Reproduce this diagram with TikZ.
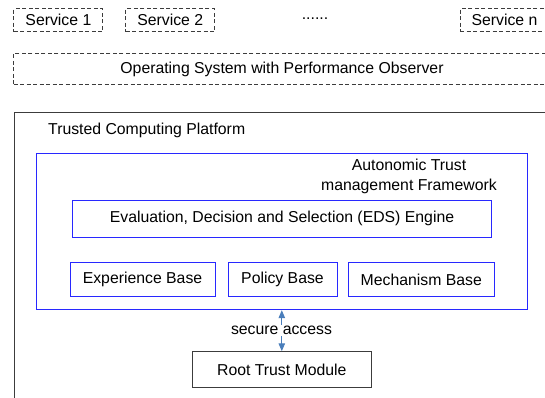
\documentclass[tikz,border=0pt]{standalone}
\usepackage{fontspec}
\setmainfont{Liberation Sans}
\usetikzlibrary{arrows.meta}
\definecolor{fwblue}{RGB}{40,40,255}
\definecolor{arrblue}{RGB}{74,126,187}
\definecolor{linegray}{RGB}{60,60,60}
\begin{document}
\begin{tikzpicture}[x=1pt,y=-1pt,
  every node/.style={font=\fontsize{15.8}{18.5}\selectfont, inner sep=0pt},
  dashbox/.style={draw=linegray, line width=0.9pt, dash pattern=on 4pt off 2.5pt},
  bluebox/.style={draw=fwblue, line width=0.9pt},
  blackbox/.style={draw=linegray, line width=0.9pt}]
\useasboundingbox (0,0) rectangle (545,398);
\clip (0,0) rectangle (545,398);
% services
\node[dashbox, minimum width=89pt, minimum height=22.7pt] (s1) at (58.4,20.3) {Service 1};
\node[dashbox, minimum width=89pt, minimum height=22.7pt] (s2) at (170.2,20.3) {Service 2};
\node (dots) at (315,19) {......};
\node[dashbox, minimum width=89pt, minimum height=22.7pt] (sn) at (504.5,20.3) {Service n};
% operating system
\node[dashbox, minimum width=536.6pt, minimum height=31pt] (os) at (282,69) {Operating System with Performance Observer};
% trusted computing platform
\node[blackbox, minimum width=600pt, minimum height=320pt, anchor=north west] (tcp) at (14,111.7) {};
\node[anchor=west] (tcpl) at (48,130.7) {Trusted Computing Platform};
% framework
\node[bluebox, minimum width=491pt, minimum height=156pt, anchor=north west] (fw) at (36,153.3) {};
\node[align=center, font=\fontsize{15.8}{19.2}\selectfont] (fwl) at (409,176.5) {Autonomic Trust\\management Framework};
\node[bluebox, minimum width=419.4pt, minimum height=37.7pt] (eds) at (282,218.9) {Evaluation, Decision and Selection (EDS) Engine};
\node[bluebox, minimum width=145pt, minimum height=33.3pt] (exp) at (142.5,279.4) {Experience Base};
\node[bluebox, minimum width=109pt, minimum height=33.3pt] (pol) at (282.5,279.4) {Policy Base};
\node[bluebox, minimum width=145.5pt, minimum height=33.3pt] (mech) at (421.3,279.4) {Mechanism Base};
% root trust module
\node[blackbox, minimum width=178.5pt, minimum height=35.6pt] (rtm) at (281.8,369.5) {Root Trust Module};
\draw[arrblue, line width=1pt, {Triangle[width=6.5pt,length=8pt]}-{Triangle[width=6.5pt,length=8pt]}]
  (fw.south -| rtm.north) -- (rtm.north);
\node[fill=white, inner sep=1.5pt] (sa) at (281.5,330.5) {secure access};
\end{tikzpicture}
\end{document}
